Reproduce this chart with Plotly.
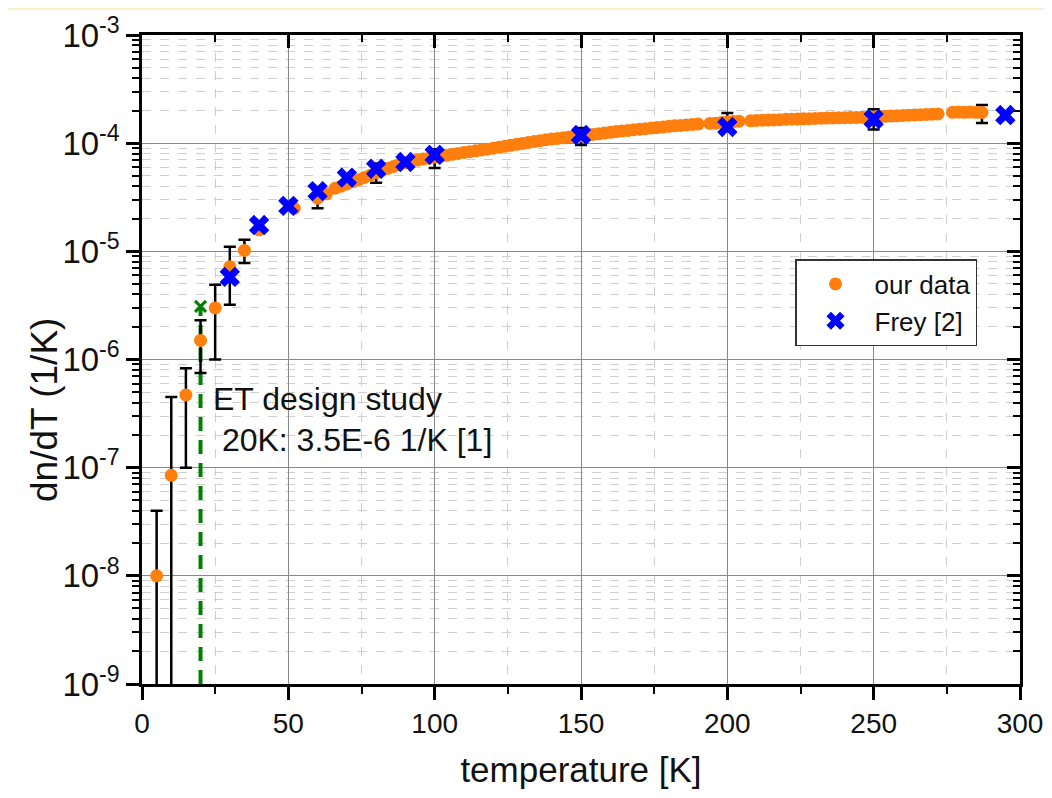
import plotly.graph_objects as go

# ---------------- data ----------------
# our data, low temperature points
our_T_low = [5, 10, 15, 20, 25, 30, 35, 40, 52, 60, 63]
our_v_low = [1.0e-8, 8.5e-8, 4.7e-7, 1.5e-6, 3.0e-6, 7.2e-6, 1.02e-5, 1.58e-5, 2.5e-5, 3.1e-5, 3.4e-5]

# our data, dense part
our_T_dense = [66, 68, 70, 72, 74, 76, 78, 80, 82, 84, 86, 88, 90, 92, 94, 96, 98, 100,
               102, 104, 106, 108, 110, 112, 114, 116, 118, 120, 122, 124, 126, 128, 130,
               132, 134, 136, 138, 140, 142, 144, 146, 148, 150, 152, 154, 156, 158, 160,
               162, 164, 166, 168, 170, 172, 174, 176, 178, 180, 182, 184, 186, 188, 190,
               194, 196, 198, 200, 202, 204, 208, 210, 212, 214, 216, 218, 220, 222, 224,
               226, 228, 230, 232, 234, 236, 238, 240, 242, 244, 246, 248, 250, 252, 254,
               256, 258, 260, 262, 264, 266, 268, 270, 272,
               277, 279, 281, 283, 285, 287]
our_v_dense = [3.83e-5, 4.0e-5, 4.2e-5, 4.4e-5, 4.6e-5, 4.82e-5, 5.05e-5, 5.35e-5, 5.6e-5,
               5.85e-5, 6.1e-5, 6.35e-5, 6.6e-5, 6.8e-5, 6.98e-5, 7.12e-5, 7.27e-5, 7.42e-5,
               7.57e-5, 7.72e-5, 7.88e-5, 8.04e-5, 8.2e-5, 8.35e-5, 8.5e-5, 8.65e-5, 8.8e-5,
               8.98e-5, 9.16e-5, 9.35e-5, 9.55e-5, 9.75e-5, 9.95e-5, 1.015e-4, 1.035e-4,
               1.055e-4, 1.075e-4, 1.09e-4, 1.105e-4, 1.12e-4, 1.14e-4, 1.155e-4, 1.17e-4,
               1.19e-4, 1.205e-4, 1.22e-4, 1.24e-4, 1.26e-4, 1.28e-4, 1.295e-4, 1.31e-4,
               1.33e-4, 1.345e-4, 1.36e-4, 1.38e-4, 1.395e-4, 1.41e-4, 1.43e-4, 1.445e-4,
               1.46e-4, 1.475e-4, 1.49e-4, 1.50e-4, 1.52e-4, 1.53e-4, 1.55e-4, 1.57e-4,
               1.585e-4, 1.595e-4, 1.61e-4, 1.62e-4, 1.63e-4, 1.635e-4, 1.64e-4, 1.65e-4,
               1.66e-4, 1.665e-4, 1.67e-4, 1.68e-4, 1.685e-4, 1.69e-4, 1.70e-4, 1.705e-4,
               1.71e-4, 1.715e-4, 1.72e-4, 1.725e-4, 1.73e-4, 1.735e-4, 1.74e-4, 1.75e-4,
               1.76e-4, 1.77e-4, 1.78e-4, 1.79e-4, 1.805e-4, 1.815e-4, 1.825e-4, 1.835e-4,
               1.845e-4, 1.855e-4, 1.865e-4,
               1.93e-4, 1.94e-4, 1.93e-4, 1.94e-4, 1.93e-4, 1.92e-4]

# error bars on our data (value, upper end, lower end)
err_T = [5, 10, 15, 20, 25, 30, 35, 60, 80, 100, 150, 200, 250, 287]
err_v = [1.0e-8, 8.5e-8, 4.7e-7, 1.5e-6, 3.0e-6, 7.2e-6, 1.02e-5, 3.1e-5, 5.4e-5, 7.4e-5,
         1.17e-4, 1.58e-4, 1.74e-4, 1.93e-4]
err_hi = [4.0e-8, 4.5e-7, 8.3e-7, 2.3e-6, 4.9e-6, 1.1e-5, 1.28e-5, 3.7e-5, 6.5e-5, 8.8e-5,
          1.38e-4, 1.9e-4, 2.06e-4, 2.25e-4]
err_lo = [1.0e-10, 1.0e-10, 1.0e-7, 7.5e-7, 1.0e-6, 3.2e-6, 7.8e-6, 2.5e-5, 4.3e-5, 5.9e-5,
          9.6e-5, 1.3e-4, 1.34e-4, 1.54e-4]

# Frey [2]
frey_T = [30, 40, 50, 60, 70, 80, 90, 100, 150, 200, 250, 295]
frey_v = [5.8e-6, 1.75e-5, 2.63e-5, 3.6e-5, 4.8e-5, 5.8e-5, 6.7e-5, 7.8e-5, 1.19e-4,
          1.41e-4, 1.67e-4, 1.82e-4]

# ET design study
et_T = [20, 20]
et_v = [1.0e-9, 3.0e-6]
et_mark_T = [20]
et_mark_v = [3.1e-6]

x_ticks = [0, 50, 100, 150, 200, 250, 300]
y_ticks = [1e-9, 1e-8, 1e-7, 1e-6, 1e-5, 1e-4, 1e-3]
y_ticktext = ["10<sup>-9</sup>", "10<sup>-8</sup>", "10<sup>-7</sup>", "10<sup>-6</sup>",
              "10<sup>-5</sup>", "10<sup>-4</sup>", "10<sup>-3</sup>"]

# ---------------- layout constants ----------------
# page coordinates of the plot area (the html body adds an 8px offset)
OFF = 8
W, H = 1052 - OFF, 798 - OFF
L, R, T, B = 142, 1020, 35, 684
ORANGE = "#FF7F0E"
BLUE = "#0000FF"
GREEN = "#008000"
FONT = "Liberation Sans, Arial, sans-serif"
TXT = "#111111"


def px_x(p):
    return (p - L) / (R - L)


def px_y(p):
    return (B - p) / (B - T)


fig = go.Figure()

# green dashed line (ET design study)
fig.add_trace(go.Scatter(x=et_T, y=et_v, mode="lines",
                         line=dict(color=GREEN, width=4, dash="14px,9px"),
                         showlegend=False, hoverinfo="skip"))

# error bars
fig.add_trace(go.Scatter(
    x=err_T, y=err_v, mode="markers",
    marker=dict(size=1, color="rgba(0,0,0,0)"),
    error_y=dict(type="data", symmetric=False,
                 array=[h - v for h, v in zip(err_hi, err_v)],
                 arrayminus=[v - l for v, l in zip(err_v, err_lo)],
                 color="black", thickness=2.5, width=6),
    showlegend=False, hoverinfo="skip"))

fig.add_trace(go.Scatter(x=et_mark_T, y=et_mark_v, mode="markers",
                         marker=dict(symbol="x-thin", size=11, color=GREEN,
                                     line=dict(color=GREEN, width=3)),
                         showlegend=False))

# our data
fig.add_trace(go.Scatter(x=our_T_low + our_T_dense, y=our_v_low + our_v_dense,
                         mode="markers", name="our data",
                         marker=dict(symbol="circle", size=13, color=ORANGE)))

# Frey
fig.add_trace(go.Scatter(x=frey_T, y=frey_v, mode="markers", name="Frey [2]",
                         marker=dict(symbol="x", size=18, color=BLUE,
                                     line=dict(width=0))))

# invisible trace for mirrored axes
fig.add_trace(go.Scatter(x=[None], y=[None], xaxis="x2", yaxis="y2",
                         showlegend=False, hoverinfo="skip"))

fig.update_layout(
    width=W, height=H,
    margin=dict(l=L - OFF, r=W - (R - OFF), t=T - OFF, b=H - (B - OFF)),
    paper_bgcolor="white", plot_bgcolor="white",
    font=dict(family=FONT, color=TXT),
    xaxis=dict(
        range=[0, 300], tickvals=x_ticks, ticks="outside", ticklen=13, tickwidth=2.5,
        tickcolor="black", showline=True, linewidth=2.5, linecolor="black",
        showgrid=True, gridcolor="#8a8a8a", gridwidth=1, zeroline=False,
        tickfont=dict(family=FONT, size=28, color=TXT), automargin=False,
        title=dict(text="temperature [K]", font=dict(family=FONT, size=35, color=TXT),
                   standoff=20),
        minor=dict(dtick=25, tick0=0, ticks="outside", ticklen=7, tickwidth=2,
                   tickcolor="black", showgrid=True, gridcolor="#cfcfcf",
                   griddash="dash", gridwidth=1),
    ),
    yaxis=dict(
        type="log", range=[-9, -3], tickvals=y_ticks, ticktext=y_ticktext,
        ticks="outside", ticklen=13, tickwidth=2.5, tickcolor="black",
        showline=True, linewidth=2.5, linecolor="black",
        showgrid=True, gridcolor="#8a8a8a", gridwidth=1, zeroline=False,
        tickfont=dict(family=FONT, size=33, color=TXT), automargin=False,
        minor=dict(dtick="D1", ticks="outside", ticklen=7, tickwidth=2,
                   tickcolor="black", showgrid=True, gridcolor="#cfcfcf",
                   griddash="dash", gridwidth=1),
    ),
    xaxis2=dict(
        overlaying="x", side="top", anchor="y", range=[0, 300], tickvals=x_ticks,
        ticks="inside", ticklen=13, tickwidth=2.5, tickcolor="black",
        showticklabels=False, showline=True, linewidth=2.5, linecolor="black",
        showgrid=False, zeroline=False, automargin=False,
        minor=dict(dtick=25, tick0=0, ticks="inside", ticklen=7, tickwidth=2,
                   tickcolor="black", showgrid=False),
    ),
    yaxis2=dict(
        overlaying="y", side="right", anchor="x", type="log", range=[-9, -3],
        tickvals=y_ticks,
        ticks="inside", ticklen=13, tickwidth=2.5, tickcolor="black",
        showticklabels=False, showline=True, linewidth=2.5, linecolor="black",
        showgrid=False, zeroline=False, automargin=False,
        minor=dict(dtick="D1", ticks="inside", ticklen=7, tickwidth=2,
                   tickcolor="black", showgrid=False),
    ),
    legend=dict(
        x=px_x(795), y=px_y(259), xanchor="left", yanchor="top",
        bgcolor="white", bordercolor="#333333", borderwidth=1.5,
        font=dict(family=FONT, size=26, color=TXT), itemwidth=68,
    ),
    showlegend=True,
)

# y-axis title (placed as rotated text, lower than the axis centre as in the reference)
fig.add_annotation(xref="paper", yref="paper", x=px_x(44), y=px_y(410),
                   xanchor="center", yanchor="middle", showarrow=False, textangle=-90,
                   text="dn/dT (1/K)", font=dict(family=FONT, size=37, color=TXT))

# annotations (ET design study)
fig.add_annotation(xref="paper", yref="paper", x=px_x(211), y=px_y(399),
                   xanchor="left", yanchor="middle", showarrow=False,
                   text="ET design study", font=dict(family=FONT, size=32, color=TXT))
fig.add_annotation(xref="paper", yref="paper", x=px_x(211), y=px_y(440),
                   xanchor="left", yanchor="middle", showarrow=False,
                   text=" 20K: 3.5E-6 1/K [1]", font=dict(family=FONT, size=32, color=TXT))

# slide background decoration (thin band at the top of the slide)
fig.add_shape(type="rect", xref="paper", yref="paper", layer="below",
              x0=px_x(OFF), x1=px_x(1052), y0=px_y(10), y1=px_y(OFF),
              fillcolor="#FFF0C8", line=dict(width=0))

fig.write_html("out.html")
